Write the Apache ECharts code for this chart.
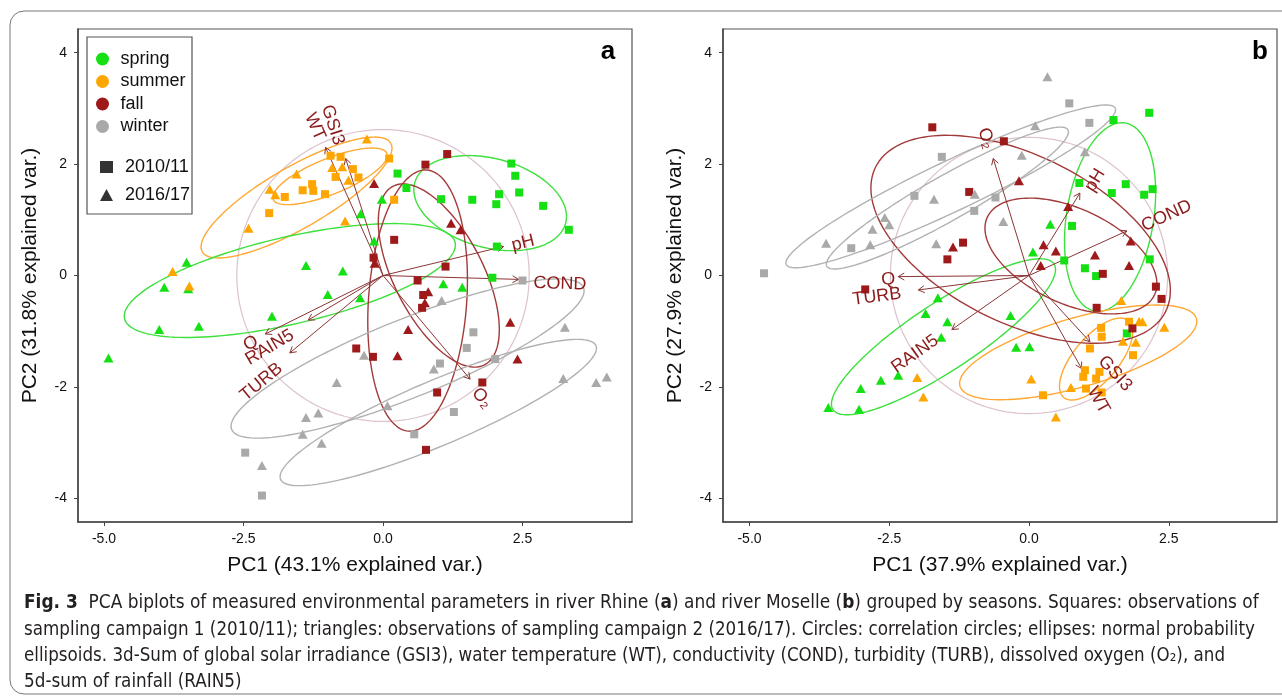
<!DOCTYPE html>
<html>
<head>
<meta charset="utf-8">
<script src="https://cdn.jsdelivr.net/npm/echarts@6/dist/echarts.min.js"></script>
<style>
  html, body { margin: 0; background: #fff; }
  #main { width: 1282px; height: 697px; }
</style>
</head>
<body>
<div id="main"></div>
<script>
// ---- panel a : river Rhine (PC1, PC2 scores) ----
var rhineSpringSq = [[0.26,1.83],[0.42,1.57],[1.04,1.37],[1.60,1.36],[2.03,1.28],[2.08,1.46],[2.44,1.49],[2.30,2.01],[2.37,1.79],[2.87,1.25],[3.33,0.82],[2.04,0.52],[1.96,-0.04]];
var rhineSpringTri = [[-0.02,1.37],[-0.40,1.11],[-0.16,0.62],[-3.52,0.24],[-3.92,-0.21],[-3.49,-0.24],[-4.01,-0.97],[-3.30,-0.91],[-4.92,-1.48],[-1.99,-0.73],[-1.38,0.18],[-0.72,0.08],[-0.99,-0.34],[-0.41,-0.40],[1.08,-0.15],[1.42,-0.21]];
var rhineSummerSq = [[-0.94,2.15],[-0.76,2.13],[-0.85,1.77],[-0.54,1.91],[-0.44,1.76],[-1.44,1.53],[-1.27,1.64],[-1.25,1.52],[-1.04,1.46],[-1.76,1.41],[-2.04,1.12],[0.11,2.10],[0.20,1.36]];
var rhineSummerTri = [[-0.29,2.45],[-0.91,1.94],[-1.55,1.82],[-0.73,1.95],[-0.62,1.71],[-2.03,1.55],[-1.93,1.45],[-2.41,0.85],[-0.68,0.98],[-3.77,0.07],[-3.47,-0.19]];
var rhineFallSq = [[1.15,2.18],[0.76,1.99],[0.20,0.64],[-0.17,0.32],[1.12,0.16],[0.62,-0.09],[0.72,-0.35],[0.70,-0.58],[-0.48,-1.31],[-0.18,-1.46],[1.78,-1.92],[0.97,-2.10],[0.77,-3.13]];
var rhineFallTri = [[-0.16,1.65],[1.22,0.94],[1.39,0.82],[0.81,-0.29],[0.75,-0.49],[0.45,-0.97],[2.28,-0.84],[2.41,-1.50],[0.26,-1.44],[-0.15,0.22]];
var rhineWinterSq = [[2.50,-0.09],[1.62,-1.02],[1.50,-1.30],[2.01,-1.50],[1.02,-1.58],[1.27,-2.45],[0.56,-2.85],[-2.47,-3.18],[-2.17,-3.95]];
var rhineWinterTri = [[-0.34,-1.43],[-0.83,-1.92],[-1.38,-2.55],[-1.16,-2.47],[-1.44,-2.85],[-1.10,-3.01],[-2.17,-3.41],[1.05,-0.45],[0.91,-1.68],[3.26,-0.93],[3.23,-1.85],[3.82,-1.92],[4.01,-1.82],[0.08,-2.34]];

// ---- panel b : river Moselle ----
var moselleSpringSq = [[2.15,2.92],[1.51,2.79],[0.90,1.66],[1.73,1.64],[1.48,1.48],[2.06,1.45],[2.21,1.55],[0.77,0.89],[0.63,0.27],[1.00,0.13],[1.20,-0.01],[2.16,0.29],[1.75,-1.04]];
var moselleSpringTri = [[0.38,0.92],[0.07,0.42],[-0.33,-0.72],[-0.23,-1.29],[0.01,-1.28],[-1.63,-0.40],[-1.85,-0.68],[-1.46,-0.83],[-1.57,-1.11],[-2.65,-1.88],[-2.34,-1.79],[-3.01,-2.03],[-3.04,-2.40],[-3.59,-2.37]];
var moselleSummerSq = [[1.79,-0.83],[1.29,-0.94],[1.30,-1.10],[1.09,-1.31],[1.86,-1.43],[1.00,-1.70],[0.97,-1.82],[1.20,-1.85],[1.26,-1.73],[1.02,-2.03],[1.30,-2.10],[0.25,-2.15]];
var moselleSummerTri = [[1.65,-0.45],[1.97,-0.82],[2.03,-0.83],[1.68,-1.18],[1.91,-1.20],[2.42,-0.93],[0.04,-1.86],[0.75,-2.01],[0.48,-2.54],[-2.00,-1.83],[-1.89,-2.18]];
var moselleFallSq = [[-1.73,2.66],[-0.45,2.41],[-1.07,1.50],[-1.18,0.59],[-1.46,0.29],[1.32,0.03],[2.27,-0.20],[2.37,-0.42],[1.21,-0.58],[1.85,-0.95],[-2.93,-0.25]];
var moselleFallTri = [[-1.36,0.51],[-0.18,1.70],[0.70,1.24],[0.26,0.55],[0.48,0.44],[0.21,0.18],[1.18,0.37],[1.82,0.62],[1.79,0.18]];
var moselleWinterSq = [[-1.56,2.13],[-2.05,1.43],[-0.60,1.40],[-0.98,1.16],[-3.18,0.49],[0.72,3.09],[1.08,2.74],[-4.74,0.04]];
var moselleWinterTri = [[-1.70,1.37],[-0.97,1.46],[-0.46,0.97],[-2.58,1.04],[-2.50,0.91],[-2.80,0.83],[-3.63,0.58],[-2.84,0.55],[-1.66,0.57],[-0.13,2.16],[0.33,3.57],[0.11,2.69],[1.00,2.22]];

// variable loadings (arrow tips) and where their names sit
var varNames = ['GSI3', 'WT', 'pH', 'COND', 'O\u2082', 'Q', 'RAIN5', 'TURB'];
var rhineLoadings = [[-0.67,2.10],[-1.03,2.30],[2.16,0.52],[2.43,-0.07],[1.56,-1.86],[-2.11,-1.05],[-1.34,-0.80],[-1.67,-1.39]];
var rhineLabelAt = [[-0.90,2.70],[-1.22,2.67],[2.51,0.58],[3.17,-0.15],[1.77,-2.20],[-2.37,-1.22],[-2.03,-1.29],[-2.18,-1.91]];
var moselleLoadings = [[1.09,-1.19],[0.94,-1.67],[0.91,1.48],[1.75,0.80],[-0.64,2.10],[-2.34,-0.02],[-1.38,-0.97],[-1.98,-0.26]];
var moselleLabelAt = [[1.54,-1.76],[1.24,-2.24],[1.18,1.71],[2.46,1.07],[-0.77,2.46],[-2.52,-0.07],[-2.04,-1.41],[-2.72,-0.38]];

// normal probability ellipses: [cx, cy, semi-axis a, semi-axis b, angle deg, season]
var rhineEllipses = [[-0.95,1.78,1.10,0.32,22,1],[-1.55,1.40,1.95,0.55,30,1],[1.92,1.30,1.40,0.80,-15,0],[-1.67,-0.09,3.04,0.78,13,0],[0.62,-0.45,2.35,0.88,86,2],[1.00,0.00,1.80,0.80,-63,2],[0.44,-1.49,3.40,0.70,22,3],[0.99,-2.46,3.07,0.58,23,3]];
var moselleEllipses = [[1.45,1.05,1.71,0.78,81,0],[-1.53,-1.10,2.37,0.60,33.5,0],[0.88,-1.38,2.20,0.62,16,1],[1.20,-1.50,0.90,0.40,50,1],[-0.15,0.65,2.90,1.50,-26.6,2],[0.75,0.35,1.65,0.85,-25,2],[-1.40,1.60,3.26,0.45,25.5,3],[-1.46,1.39,2.48,0.40,29.6,3]];
// correlation circle radius
var rhineCircle = [[0, 0, 2.62, 2.62, 0, 4]];
var moselleCircle = [[0, 0, 2.48, 2.48, 0, 4]];

var seasons = ['spring', 'summer', 'fall', 'winter'];
var years = ['2010/11', '2016/17'];
var xTicks = [-5, -2.5, 0, 2.5];
var yTicks = [-4, -2, 0, 2, 4];
var xTitles = ['PC1 (43.1% explained var.)', 'PC1 (37.9% explained var.)'];
var yTitles = ['PC2 (31.8% explained var.)', 'PC2 (27.9% explained var.)'];

var captionLines = [
  '{b|Fig. 3}  PCA biplots of measured environmental parameters in river Rhine ({b|a}) and river Moselle ({b|b}) grouped by seasons. Squares: observations of',
  'sampling campaign 1 (2010/11); triangles: observations of sampling campaign 2 (2016/17). Circles: correlation circles; ellipses: normal probability',
  'ellipsoids. 3d-Sum of global solar irradiance (GSI3), water temperature (WT), conductivity (COND), turbidity (TURB), dissolved oxygen (O\u2082), and',
  '5d-sum of rainfall (RAIN5)'
];

var FONT = '"Liberation Sans", Arial, sans-serif';
var CAP_FONT = '"Liberation Sans Narrow", "DejaVu Sans Condensed", "Liberation Sans", sans-serif';
var seasonColors = ['#14e014', '#ffa500', '#9e1a1a', '#a9a9a9'];
var lineColors = ['#3ee03e', '#ffa833', '#a33a3a', '#b2b2b2', '#dcc2cd'];
var arrowColor = '#8b3535';
var labelColor = '#8b1a1a';

var chart = echarts.init(document.getElementById('main'));

function ellipseItem(params, api) {
  var cx = api.value(0), cy = api.value(1), a = api.value(2), b = api.value(3);
  var t = api.value(4) * Math.PI / 180, c = api.value(5);
  var pts = [];
  for (var k = 0; k <= 144; k++) {
    var s = k / 144 * 2 * Math.PI;
    var ex = a * Math.cos(s), ey = b * Math.sin(s);
    pts.push(api.coord([cx + ex * Math.cos(t) - ey * Math.sin(t), cy + ex * Math.sin(t) + ey * Math.cos(t)]));
  }
  return {
    type: 'polyline', silent: true,
    shape: { points: pts },
    style: { stroke: lineColors[c], fill: 'none', lineWidth: c === 4 ? 1.2 : 1.4 }
  };
}

function arrowItem(params, api) {
  var o = api.coord([0, 0]);
  var e = api.coord([api.value(0), api.value(1)]);
  var dx = e[0] - o[0], dy = e[1] - o[1], len = Math.sqrt(dx * dx + dy * dy);
  var ux = -dx / len, uy = -dy / len, h = 7, ang = Math.PI / 6;
  var l = [ux * Math.cos(ang) - uy * Math.sin(ang), ux * Math.sin(ang) + uy * Math.cos(ang)];
  var r = [ux * Math.cos(-ang) - uy * Math.sin(-ang), ux * Math.sin(-ang) + uy * Math.cos(-ang)];
  return {
    type: 'group', silent: true,
    children: [
      { type: 'line', shape: { x1: o[0], y1: o[1], x2: e[0], y2: e[1] }, style: { stroke: arrowColor, lineWidth: 1 } },
      { type: 'polyline', shape: { points: [[e[0] + l[0] * h, e[1] + l[1] * h], e, [e[0] + r[0] * h, e[1] + r[1] * h]] },
        style: { stroke: arrowColor, fill: 'none', lineWidth: 1 } }
    ]
  };
}

function labelRenderer(loads) {
  return function (params, api) {
    var p = api.coord([api.value(0), api.value(1)]);
    var L = loads[params.dataIndex];
    return {
      type: 'text', silent: true,
      x: p[0], y: p[1],
      rotation: Math.atan(L[1] / L[0]),
      style: {
        text: varNames[params.dataIndex], fill: labelColor,
        fontSize: 18, fontFamily: FONT, align: 'center', verticalAlign: 'middle'
      }
    };
  };
}

function panelSeries(gi, sq, tri, ellipses, circle, loads, labelAt) {
  var out = [];
  out.push({ type: 'custom', xAxisIndex: gi, yAxisIndex: gi, renderItem: ellipseItem, data: circle, z: 1 });
  out.push({ type: 'custom', xAxisIndex: gi, yAxisIndex: gi, renderItem: ellipseItem, data: ellipses, z: 1 });
  out.push({ type: 'custom', xAxisIndex: gi, yAxisIndex: gi, renderItem: arrowItem, data: loads, z: 2 });
  for (var s = 0; s < 4; s++) {
    out.push({ type: 'scatter', name: seasons[s], xAxisIndex: gi, yAxisIndex: gi, data: sq[s],
      symbol: 'rect', symbolSize: 8, itemStyle: { color: seasonColors[s], opacity: 1 }, z: 3 });
    out.push({ type: 'scatter', name: seasons[s], xAxisIndex: gi, yAxisIndex: gi, data: tri[s],
      symbol: 'triangle', symbolSize: [10, 9], itemStyle: { color: seasonColors[s], opacity: 1 }, z: 3 });
  }
  out.push({ type: 'custom', xAxisIndex: gi, yAxisIndex: gi, renderItem: labelRenderer(loads), data: labelAt, z: 4 });
  return out;
}

var series = []
  .concat(panelSeries(0,
    [rhineSpringSq, rhineSummerSq, rhineFallSq, rhineWinterSq],
    [rhineSpringTri, rhineSummerTri, rhineFallTri, rhineWinterTri],
    rhineEllipses, rhineCircle, rhineLoadings, rhineLabelAt))
  .concat(panelSeries(1,
    [moselleSpringSq, moselleSummerSq, moselleFallSq, moselleWinterSq],
    [moselleSpringTri, moselleSummerTri, moselleFallTri, moselleWinterTri],
    moselleEllipses, moselleCircle, moselleLoadings, moselleLabelAt));
// legend-only entries for the two campaigns
series.push({ type: 'scatter', name: years[0], data: [], symbol: 'rect', itemStyle: { color: '#000' } });
series.push({ type: 'scatter', name: years[1], data: [], symbol: 'triangle', itemStyle: { color: '#000' } });

var xRange = [[-5.466, 4.462], [-5.474, 4.436]];
var grids = [{ left: 78, top: 29, width: 554, height: 493 }, { left: 723, top: 29, width: 554, height: 493 }];

function xAxisFor(i) {
  return {
    gridIndex: i, type: 'value', min: xRange[i][0], max: xRange[i][1],
    name: xTitles[i], nameLocation: 'middle', nameGap: 33,
    nameTextStyle: { fontSize: 21, color: '#111', fontFamily: FONT },
    axisLine: { show: true, onZero: false, lineStyle: { color: '#444', width: 1.5 } },
    axisTick: { show: true, length: 4, customValues: xTicks, lineStyle: { color: '#444' } },
    axisLabel: { customValues: xTicks, formatter: function (v) { return v.toFixed(1); },
      fontSize: 14, color: '#111', fontFamily: FONT, margin: 10 },
    splitLine: { show: false }
  };
}
function yAxisFor(i) {
  return {
    gridIndex: i, type: 'value', min: -4.425, max: 4.425,
    name: yTitles[i], nameLocation: 'middle', nameGap: 37,
    nameTextStyle: { fontSize: 21, color: '#111', fontFamily: FONT },
    axisLine: { show: true, onZero: false, lineStyle: { color: '#444', width: 1.5 } },
    axisTick: { show: true, length: 4, customValues: yTicks, lineStyle: { color: '#444' } },
    axisLabel: { customValues: yTicks, formatter: function (v) { return String(v); },
      fontSize: 14, color: '#111', fontFamily: FONT, margin: 11 },
    splitLine: { show: false }
  };
}

// caption: squeeze each line so it ends where it ends in the original
var CAP_SIZE = 19;
var ctx = document.createElement('canvas').getContext('2d');
ctx.font = CAP_SIZE + 'px ' + CAP_FONT;
var captionEnds = [1248, 1255, 1225];
var capScales = captionEnds.map(function (end, i) {
  var w = ctx.measureText(captionLines[i].replace(/\{b\|([^}]*)\}/g, '$1')).width;
  return Math.min(1, (end - 24) / w);
});
capScales.push((capScales[0] + capScales[1] + capScales[2]) / 3);
var captionY = [603, 630, 656, 682];
var captionEls = captionLines.map(function (line, i) {
  return {
    type: 'text', x: 24, y: captionY[i], scaleX: capScales[i], silent: true,
    style: {
      text: line, fill: '#231f20', fontSize: CAP_SIZE, fontFamily: CAP_FONT,
      verticalAlign: 'middle', align: 'left',
      rich: { b: { fontSize: CAP_SIZE, fontWeight: 'bold', fontFamily: CAP_FONT, fill: '#231f20' } }
    }
  };
});

var legendText = { fontSize: 18, color: '#111', fontFamily: FONT, rich: { g: { width: 7 } } };

var option = {
  animation: false,
  backgroundColor: '#fff',
  grid: grids.map(function (g) {
    return Object.assign({ show: true, borderColor: '#555', borderWidth: 1.2, backgroundColor: 'transparent' }, g);
  }),
  xAxis: [xAxisFor(0), xAxisFor(1)],
  yAxis: [yAxisFor(0), yAxisFor(1)],
  legend: [
    {
      data: seasons.map(function (s) { return { name: s, icon: 'circle' }; }),
      orient: 'vertical', left: 91, top: 45, itemWidth: 26, itemHeight: 13, itemGap: 4.5,
      selectedMode: false, textStyle: { fontSize: 18, color: '#111', fontFamily: FONT }
    },
    {
      data: [{ name: years[0], icon: 'rect' }, { name: years[1], icon: 'triangle' }],
      orient: 'vertical', left: 95, top: 153, itemWidth: 13, itemHeight: 12, itemGap: 10,
      selectedMode: false, textStyle: legendText,
      formatter: function (name) { return '{g| }' + name; }
    }
  ],
  graphic: [
    { type: 'rect', silent: true, z: -1, shape: { x: 10, y: 11, width: 1290, height: 683, r: 14 },
      style: { fill: 'none', stroke: '#777', lineWidth: 1 } },
    { type: 'rect', silent: true, z: 3, shape: { x: 87, y: 37, width: 105, height: 177 },
      style: { fill: '#fff', stroke: '#555', lineWidth: 1.2 } },
    { type: 'text', silent: true, x: 608, y: 52, z: 5,
      style: { text: 'a', fontSize: 26, fontWeight: 'bold', fontFamily: FONT, fill: '#000', align: 'center', verticalAlign: 'middle' } },
    { type: 'text', silent: true, x: 1260, y: 52, z: 5,
      style: { text: 'b', fontSize: 26, fontWeight: 'bold', fontFamily: FONT, fill: '#000', align: 'center', verticalAlign: 'middle' } }
  ].concat(captionEls),
  series: series
};

chart.setOption(option);
</script>
</body>
</html>
